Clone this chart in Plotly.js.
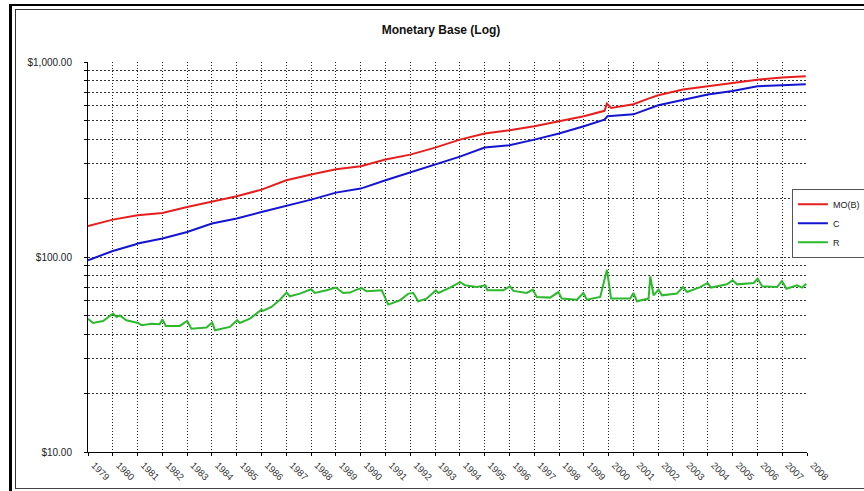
<!DOCTYPE html>
<html>
<head>
<meta charset="utf-8">
<script src="https://cdn.plot.ly/plotly-3.0.1.min.js"></script>
<style>
  html, body { margin:0; padding:0; background:#fff; overflow:hidden; }
  #wrap { position:relative; width:864px; height:491px; }
  #chart { position:absolute; left:0; top:0; width:864px; height:491px; }
  .frame { position:absolute; pointer-events:none; box-sizing:border-box; }
</style>
</head>
<body>
<div id="wrap">
  <div id="chart"></div>
  <div class="frame" style="left:9px; top:4px; width:900px; height:520px; border-left:3px solid #000; border-top:2px solid #000;"></div>
  <div class="frame" style="left:15px; top:9px; width:900px; height:480px; border-left:1px solid #333; border-top:1px solid #333; border-bottom:1px solid #444;"></div>
</div>
<script>
// ---- Data (decimal years, $ billions) ----
var moYears = [1979, 1980, 1981, 1982, 1983, 1984, 1985, 1986, 1987, 1988, 1989, 1990, 1991, 1992, 1993, 1994,
               1995, 1996, 1997, 1998, 1999, 1999.83, 1999.93, 2000.1, 2001, 2001.6, 2002, 2003, 2004, 2005, 2006, 2007, 2007.95];
var moValues = [144, 155.5, 163.6, 168, 180.4, 191.4, 204.8, 221.6, 247.4, 264.6, 281.7, 291.8, 315.9, 335, 364, 400,
                429.5, 446.4, 468, 496.6, 526.7, 562, 612, 581, 607, 649, 675, 722, 750.6, 784, 812, 831.8, 844.6];

var cYears = [1979, 1980, 1980.9, 1981, 1982, 1983, 1984, 1985, 1986, 1987, 1988, 1989, 1990, 1991, 1992, 1993, 1994,
              1995, 1995.3, 1996, 1997, 1998, 1999, 1999.83, 1999.95, 2001, 2002, 2003, 2004, 2005, 2006, 2007, 2007.95];
var cValues = [96.2, 107.4, 116, 117.2, 124.3, 134.3, 148.4, 157.4, 170.2, 182.6, 196.9, 213.9, 224.3, 247.4, 270.8, 297.7, 327,
               364, 367, 374, 400, 429.5, 468, 506.6, 526.7, 539, 600, 641.5, 680.6, 710, 750.6, 759.5, 768.5];

var rYears = [1979.00, 1979.20, 1979.61, 1980.01, 1980.15, 1980.28, 1980.55, 1981.02, 1981.16, 1981.56, 1981.89,
              1982.00, 1982.14, 1982.70, 1983.00, 1983.17, 1983.78, 1984.01, 1984.12, 1984.72, 1985.02, 1985.12,
              1985.53, 1986.00, 1986.06, 1986.40, 1986.74, 1987.01, 1987.14, 1987.55, 1988.00, 1988.15, 1988.62,
              1989.00, 1989.29, 1989.56, 1989.84, 1990.04, 1990.24, 1990.85, 1991.11, 1991.58, 1991.92, 1992.12,
              1992.32, 1992.66, 1993.03, 1993.13, 1993.60, 1994.01, 1994.21, 1994.68, 1995.03, 1995.11, 1995.75,
              1996.02, 1996.16, 1996.70, 1996.94, 1997.10, 1997.64, 1997.97, 1998.11, 1998.72, 1998.98, 1999.12,
              1999.66, 1999.93, 2000.10, 2000.47, 2000.87, 2001.00, 2001.14, 2001.61, 2001.68, 2001.81, 2002.01,
              2002.15, 2002.75, 2003.00, 2003.16, 2003.69, 2003.99, 2004.13, 2004.77, 2005.00, 2005.18, 2005.85,
              2006.01, 2006.19, 2006.79, 2006.99, 2007.17, 2007.60, 2007.80, 2007.97];
var rValues = [48.3, 45.9, 47.0, 51.3, 49.2, 50.2, 47.4, 45.9, 44.7, 45.5, 45.2,
               47.8, 44.3, 44.3, 47.0, 42.9, 43.5, 46.1, 42.1, 43.8, 47.4, 45.9,
               48.3, 53.7, 52.9, 55.4, 60.4, 65.7, 62.9, 64.9, 68.3, 65.4, 67.5,
               69.7, 65.4, 65.7, 68.0, 69.3, 66.7, 67.5, 57.0, 60.0, 64.9, 65.4,
               59.3, 61.2, 67.5, 65.4, 69.7, 74.4, 71.6, 70.1, 71.6, 67.5, 67.5,
               70.7, 67.0, 65.4, 68.0, 62.4, 61.9, 66.1, 61.2, 60.4, 65.4, 60.4,
               62.4, 86.0, 61.2, 61.2, 61.2, 65.4, 59.3, 61.2, 79.6, 63.6, 68.0,
               63.6, 64.9, 70.1, 66.1, 70.1, 73.6, 69.7, 72.4, 75.9, 72.4, 73.6,
               77.5, 70.7, 70.1, 75.3, 68.7, 71.6, 69.7, 73.0];

var seriesNames = ['MO(B)', 'C', 'R'];
var seriesColors = ['#e61e1e', '#1414d2', '#2db82d'];

var yearTicks = [1979,1980,1981,1982,1983,1984,1985,1986,1987,1988,1989,1990,1991,1992,1993,1994,
                 1995,1996,1997,1998,1999,2000,2001,2002,2003,2004,2005,2006,2007,2008];
var yearLabels = yearTicks.map(String);

var yTickVals = [10,20,30,40,50,60,70,80,90,100,200,300,400,500,600,700,800,900,1000];
var yTickText = ['$10.00','','','','','','','','','$100.00','','','','','','','','','$1,000.00'];

var FONT = 'Liberation Sans, Arial, sans-serif';

var traces = [
  {x: moYears, y: moValues, name: seriesNames[0]},
  {x: cYears,  y: cValues,  name: seriesNames[1]},
  {x: rYears,  y: rValues,  name: seriesNames[2]}
].map(function(t, i){
  t.type = 'scatter'; t.mode = 'lines';
  t.line = {color: seriesColors[i], width: 2};
  return t;
});

var layout = {
  width: 864, height: 491,
  paper_bgcolor: 'rgba(0,0,0,0)', plot_bgcolor: 'rgba(0,0,0,0)',
  margin: {l: 88, r: 57, t: 62, b: 39, autoexpand: false},
  font: {family: FONT, color: '#222'},
  title: {text: 'Monetary Base (Log)', font: {family: FONT, size: 12, weight: 'bold', color: '#111'},
          x: 0.5104, xref: 'container', xanchor: 'center', y: 0.939, yref: 'container', yanchor: 'middle'},
  showlegend: true,
  legend: {x: 0.979, xanchor: 'left', y: 0.675, yanchor: 'top',
           bgcolor: '#fff', bordercolor: '#555', borderwidth: 1, itemwidth: 30,
           font: {family: FONT, size: 9, color: '#222'}, tracegroupgap: 0},
  xaxis: {
    type: 'linear', range: [1979, 2008],
    tickmode: 'array', tickvals: yearTicks, ticktext: yearLabels, tickangle: 45,
    tickfont: {family: FONT, size: 9.5, color: '#333'},
    ticklabelshift: 6,
    showgrid: true, gridcolor: '#222', griddash: '1px,2px', gridwidth: 1,
    showline: true, linecolor: '#000', linewidth: 1,
    ticks: 'outside', ticklen: 3, tickcolor: '#000', zeroline: false
  },
  yaxis: {
    type: 'log', range: [1, 3],
    tickmode: 'array', tickvals: yTickVals, ticktext: yTickText,
    tickfont: {family: FONT, size: 10, color: '#222'},
    showgrid: true, gridcolor: '#333', griddash: '2px,2px', gridwidth: 1,
    showline: true, linecolor: '#000', linewidth: 1,
    ticks: 'outside', ticklen: 3, tickcolor: '#000', zeroline: false,
    ticklabelstandoff: 10
  }
};

Plotly.newPlot('chart', traces, layout, {displayModeBar: false, staticPlot: true});
</script>
</body>
</html>
